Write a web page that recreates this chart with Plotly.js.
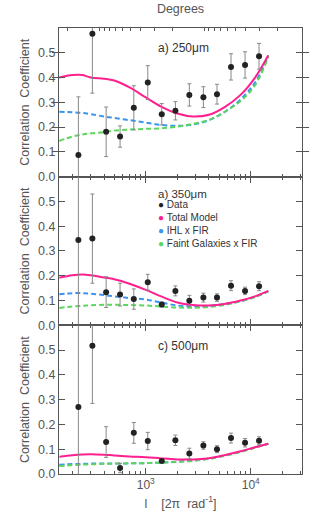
<!DOCTYPE html>
<html><head><meta charset="utf-8">
<script src="https://cdn.plot.ly/plotly-3.0.1.min.js"></script>
<style>html,body{margin:0;padding:0;background:#fff}#plot{width:319px;height:512px}</style>
</head><body><div id="plot"></div>
<script>
// multipole l of the data points
const lData = [228, 310, 419, 569, 769, 1045, 1420, 1915, 2600, 3540, 4770, 6490, 8830, 12000];
// 250 micron
const r250 = [0.087, 0.577, 0.181, 0.162, 0.278, 0.380, 0.252, 0.266, 0.330, 0.321, 0.333, 0.443, 0.451, 0.486];
const e250 = [0.235, 0.240, 0.100, 0.043, 0.089, 0.068, 0.043, 0.037, 0.045, 0.042, 0.040, 0.053, 0.053, 0.052];
// 350 micron
const r350 = [0.344, 0.350, 0.134, 0.124, 0.106, 0.174, 0.084, 0.139, 0.099, 0.112, 0.112, 0.160, 0.139, 0.158];
const e350 = [0.450, 0.180, 0.062, 0.046, 0.041, 0.032, 0.010, 0.020, 0.022, 0.018, 0.015, 0.020, 0.015, 0.018];
// 500 micron
const r500 = [0.270, 0.518, 0.129, 0.024, 0.166, 0.133, 0.052, 0.136, 0.083, 0.115, 0.100, 0.145, 0.126, 0.134];
const e500 = [0.450, 0.233, 0.062, 0.019, 0.042, 0.035, 0.005, 0.021, 0.021, 0.015, 0.014, 0.020, 0.017, 0.016];

// model curves
const lModel = [150, 200, 250, 300, 400, 500, 700, 1000, 1400, 2000, 2800, 4000, 5600, 8000, 11000, 14700];
const tot250 = [0.400, 0.410, 0.410, 0.400, 0.395, 0.388, 0.360, 0.320, 0.283, 0.255, 0.243, 0.250, 0.280, 0.330, 0.400, 0.490];
const ihl250 = [0.262, 0.260, 0.257, 0.252, 0.243, 0.237, 0.228, 0.218, 0.209, 0.205, 0.210, 0.228, 0.260, 0.312, 0.380, 0.485];
const fg250  = [0.144, 0.162, 0.170, 0.175, 0.180, 0.186, 0.190, 0.193, 0.195, 0.202, 0.213, 0.229, 0.261, 0.305, 0.369, 0.483];
const tot350 = [0.192, 0.202, 0.205, 0.202, 0.193, 0.186, 0.168, 0.143, 0.117, 0.092, 0.082, 0.080, 0.086, 0.100, 0.117, 0.139];
const ihl350 = [0.125, 0.130, 0.130, 0.128, 0.122, 0.117, 0.110, 0.104, 0.092, 0.080, 0.076, 0.078, 0.086, 0.098, 0.115, 0.137];
const fg350  = [0.070, 0.076, 0.079, 0.081, 0.083, 0.083, 0.082, 0.080, 0.076, 0.072, 0.071, 0.074, 0.082, 0.097, 0.114, 0.137];
const tot500 = [0.070, 0.076, 0.079, 0.080, 0.078, 0.075, 0.071, 0.068, 0.063, 0.059, 0.059, 0.064, 0.076, 0.092, 0.108, 0.122];
const ihl500 = [0.037, 0.040, 0.041, 0.042, 0.042, 0.042, 0.043, 0.044, 0.046, 0.050, 0.054, 0.062, 0.074, 0.090, 0.107, 0.122];
const fg500  = [0.032, 0.036, 0.038, 0.039, 0.041, 0.042, 0.043, 0.044, 0.046, 0.049, 0.053, 0.061, 0.073, 0.089, 0.106, 0.122];

const yTicks = [0, 0.1, 0.2, 0.3, 0.4, 0.5];
const xMajor = [1000, 10000];
const xMajorText = ['10<sup>3</sup>', '10<sup>4</sup>'];
const xMinor = [200,300,400,500,600,700,800,900,2000,3000,4000,5000,6000,7000,8000,9000,20000,30000];
const degTicks = [2,1,0.9,0.8,0.7,0.6,0.5,0.4,0.3,0.2,0.1,0.09,0.08,0.07,0.06,0.05,0.04,0.03,0.02];
const legendNames = ['Data', 'Total Model', 'IHL x FIR', 'Faint Galaxies x FIR'];

const C_TOT = '#ff1f8e', C_IHL = '#3b95f0', C_FG = '#5cd65c';
const legendColors = ['#222', C_TOT, C_IHL, C_FG];
const GRAY = '#555';

function panel(xa, ya, tot, ihl, fg, r, e) {
  return [
    {x: lModel, y: ihl, xaxis: xa, yaxis: ya, mode: 'lines', line: {color: C_IHL, width: 2, dash: '5px,3px', shape: 'spline'}, hoverinfo: 'skip'},
    {x: lModel, y: fg, xaxis: xa, yaxis: ya, mode: 'lines', line: {color: C_FG, width: 2, dash: '5px,3px', shape: 'spline'}, hoverinfo: 'skip'},
    {x: lModel, y: tot, xaxis: xa, yaxis: ya, mode: 'lines', line: {color: C_TOT, width: 2, shape: 'spline'}, hoverinfo: 'skip'},
    {x: lData, y: r, xaxis: xa, yaxis: ya, mode: 'markers', marker: {color: '#222', size: 6},
     error_y: {type: 'data', array: e, visible: true, color: '#888', thickness: 1, width: 2}, cliponaxis: true}
  ];
}

const data = [
  ...panel('x', 'y', tot250, ihl250, fg250, r250, e250),
  ...panel('x2', 'y2', tot350, ihl350, fg350, r350, e350),
  ...panel('x3', 'y3', tot500, ihl500, fg500, r500, e500),
  {x: lData.map(l => 360 / l), y: r250, xaxis: 'x4', yaxis: 'y', mode: 'markers', marker: {opacity: 0}, hoverinfo: 'skip'}
];

const FONT = {family: 'Liberation Sans, Arial, sans-serif', size: 11, color: GRAY};
const xRange = [Math.log10(149), Math.log10(30800)];

function xaxis(anchor, labels) {
  const ax = {
    type: 'log', range: xRange, anchor: anchor,
    tickmode: 'array', tickvals: xMajor, ticktext: xMajorText,
    ticks: 'inside', ticklen: 6, tickcolor: GRAY, tickwidth: 1,
    minor: {tickmode: 'array', tickvals: xMinor, ticks: 'inside', ticklen: 3, tickcolor: GRAY},
    showticklabels: labels, tickfont: {family: FONT.family, size: 12, color: GRAY},
    showline: true, linecolor: GRAY, linewidth: 1, mirror: anchor === 'y' ? true : 'allticks',
    showgrid: false, zeroline: false
  };
  if (labels) ax.title = {text: 'l&nbsp;&nbsp;&nbsp;&nbsp;[2\u03c0&nbsp;&nbsp;rad<sup>-1</sup>]', font: {family: FONT.family, size: 12.5, color: GRAY}, standoff: 7};
  return ax;
}
function yaxis(dom, anchor) {
  return {
    domain: dom, anchor: anchor, range: [0, 0.6],
    tickmode: 'array', tickvals: yTicks, tickformat: '.1f',
    ticks: 'inside', ticklen: 6, tickcolor: GRAY,
    tickfont: {family: FONT.family, size: 12.5, color: GRAY},
    showline: true, linecolor: GRAY, linewidth: 1, mirror: 'allticks',
    showgrid: false, zeroline: false,
    title: {text: 'Correlation&nbsp;&nbsp;Coefficient', font: {family: FONT.family, size: 12.5, color: GRAY}, standoff: 5}
  };
}

const ann = (x, y, text, size) => ({xref: 'paper', yref: 'paper', x: x, y: y, xanchor: 'left', yanchor: 'middle', align: 'left', text: text, showarrow: false, font: {family: FONT.family, size: size, color: '#333'}});
const dot = c => `<span style="color:${c}">\u25cf</span>`;
const legendText = legendNames.map((n, i) => dot(legendColors[i]) + ' ' + n).join('<br>');

const layout = {
  width: 319, height: 512,
  margin: {l: 59, r: 17, t: 28, b: 38},
  paper_bgcolor: '#fff', plot_bgcolor: '#fff',
  showlegend: false, font: FONT,
  xaxis: xaxis('y', false),
  xaxis2: xaxis('y2', false),
  xaxis3: xaxis('y3', true),
  xaxis4: {type: 'log', overlaying: 'x', side: 'top', anchor: 'y',
    range: [Math.log10(360 / 149), Math.log10(360 / 30800)],
    tickmode: 'array', tickvals: degTicks, ticks: 'inside', ticklen: 3, tickcolor: GRAY,
    showticklabels: false, showgrid: false, zeroline: false, showline: false,
    title: {text: 'Degrees', font: {family: FONT.family, size: 12.5, color: GRAY}, standoff: 10}},
  yaxis: yaxis([2/3, 1], 'x'),
  yaxis2: yaxis([1/3, 2/3], 'x2'),
  yaxis3: yaxis([0, 1/3], 'x3'),
  annotations: [
    ann(0.4, 0.955, 'a) 250\u03bcm', 12),
    ann(0.4, 0.628, 'a) 350\u03bcm', 11.5),
    ann(0.4, (474 - 224) / 446, legendText, 10),
    ann(0.4, 0.287, 'c) 500\u03bcm', 12)
  ]
};

Plotly.newPlot('plot', data, layout, {staticPlot: true, displayModeBar: false});
</script></body></html>
